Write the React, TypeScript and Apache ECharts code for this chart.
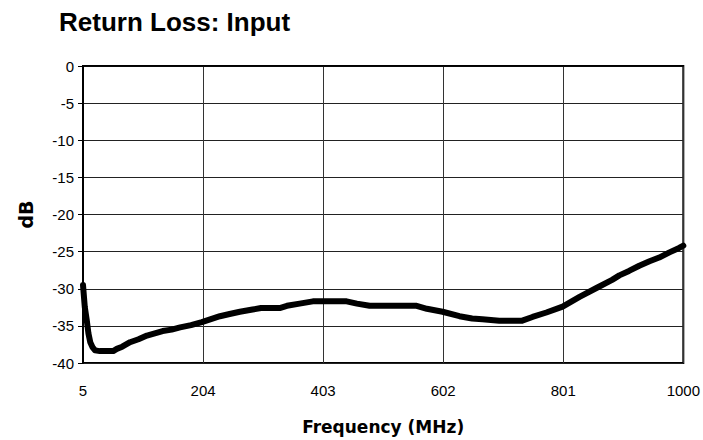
import React, { useEffect, useRef } from "react";
import * as echarts from "echarts";

const titleText = "Return Loss: Input";
const xName = "Frequency (MHz)";
const yName = "dB";
const xTickLabels = ["5", "204", "403", "602", "801", "1000"];

const freqMHz = [5, 8, 11, 14, 17, 21, 25, 33, 45, 55, 61, 70, 83, 97, 111, 124, 137, 152, 166, 184, 202, 217, 232, 248, 265, 286, 300, 315, 331, 343, 364, 386, 403, 420, 442, 459, 480, 520, 558, 575, 601, 629, 650, 667, 695, 733, 750, 773, 800, 828, 856, 882, 894, 910, 927, 944, 960, 977, 993, 1000];
const lossDb = [-29.5, -32.5, -34.1, -36.0, -37.2, -37.9, -38.3, -38.4, -38.4, -38.4, -38.1, -37.8, -37.2, -36.8, -36.3, -36.0, -35.7, -35.5, -35.2, -34.9, -34.5, -34.1, -33.7, -33.4, -33.1, -32.8, -32.6, -32.6, -32.6, -32.3, -32.0, -31.7, -31.7, -31.7, -31.7, -32.0, -32.3, -32.3, -32.3, -32.7, -33.1, -33.7, -34.0, -34.1, -34.3, -34.3, -33.8, -33.2, -32.4, -31.1, -29.9, -28.8, -28.2, -27.6, -26.9, -26.3, -25.8, -25.1, -24.5, -24.2];

const FONT = "'Liberation Sans', Arial, sans-serif";
const WIDE = "'DejaVu Sans', 'Liberation Sans', Arial, sans-serif";

export default function App() {
  const ref = useRef<HTMLDivElement>(null);
  useEffect(() => {
    if (!ref.current) return;
    const chart = echarts.init(ref.current, undefined, { renderer: "svg" });
    const data = freqMHz.map((f, i) => [f, lossDb[i]]);
    chart.setOption({
      animation: false,
      backgroundColor: "#fff",
      title: {
        text: titleText,
        left: 59,
        top: 9,
        padding: 0,
        textStyle: { fontFamily: FONT, fontWeight: "bold", fontSize: 26, color: "#000" },
      },
      grid: {
        left: 83,
        top: 66,
        right: 19,
        bottom: 76,
        containLabel: false,
        show: true,
        borderColor: "#000",
        borderWidth: 2,
        backgroundColor: "transparent",
      },
      xAxis: [
        {
          type: "category",
          data: xTickLabels,
          boundaryGap: false,
          name: xName,
          nameLocation: "middle",
          nameGap: 55,
          nameTextStyle: { fontFamily: WIDE, fontWeight: "bold", fontSize: 17, color: "#000" },
          axisLine: { show: true, lineStyle: { color: "#000", width: 1.5 } },
          axisTick: { show: false },
          axisLabel: { margin: 20, fontFamily: FONT, fontSize: 15, color: "#000" },
          splitLine: { show: true, lineStyle: { color: "#333", width: 1 } },
        },
        {
          type: "value",
          min: 5,
          max: 1000,
          show: false,
          splitLine: { show: false },
        },
      ],
      yAxis: {
        type: "value",
        min: -40,
        max: 0,
        interval: 5,
        name: yName,
        nameLocation: "middle",
        nameGap: 48,
        nameRotate: 90,
        nameTextStyle: { fontFamily: WIDE, fontWeight: "bold", fontSize: 19, color: "#000" },
        axisLine: { show: true, lineStyle: { color: "#000", width: 2 } },
        axisTick: { show: true, inside: false, length: 5, lineStyle: { color: "#000", width: 1 } },
        axisLabel: { margin: 9, fontFamily: FONT, fontSize: 15, color: "#000" },
        splitLine: { show: true, lineStyle: { color: "#222", width: 1 } },
      },
      series: [
        {
          type: "line",
          xAxisIndex: 1,
          data,
          showSymbol: false,
          symbol: "none",
          smooth: false,
          lineStyle: { color: "#000", width: 6, cap: "round", join: "round" },
        },
      ],
    });
    return () => chart.dispose();
  }, []);
  return <div ref={ref} style={{ width: 703, height: 440, position: "absolute", left: 0, top: 0 }} />;
}
